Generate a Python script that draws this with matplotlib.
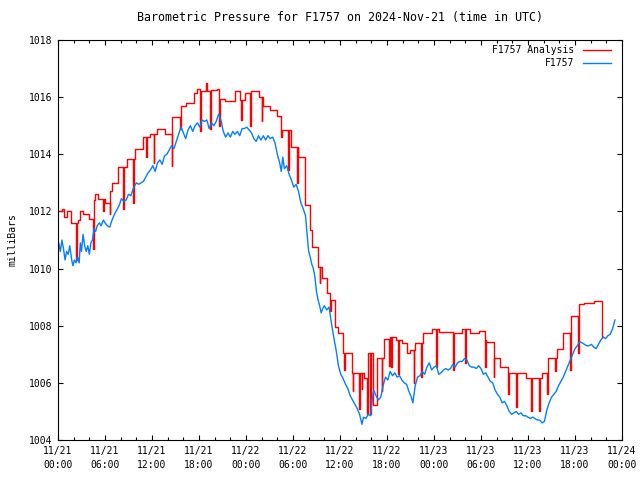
import matplotlib
matplotlib.use('Agg')
import matplotlib.pyplot as plt
from matplotlib.ticker import MultipleLocator, FixedLocator

# hours since 2024-11-21 00:00 UTC
blue_hours = [0.0, 0.1, 0.3, 0.5, 0.7, 0.9, 1.1, 1.3, 1.5, 1.75, 1.9, 2.1, 2.3, 2.5, 2.7, 2.85,
              3.0, 3.2, 3.4, 3.6, 3.8, 4.0, 4.2, 4.4, 4.6, 4.8, 5.0, 5.3, 5.5, 5.8, 6.0, 6.3,
              6.6, 6.9, 7.2, 7.5, 7.8, 8.1, 8.4, 8.7, 9.0, 9.3, 9.6, 10.0, 10.3, 10.6, 10.9,
              11.2, 11.5, 11.8, 12.1, 12.4, 12.7, 13.0, 13.3, 13.6, 13.9, 14.2, 14.5, 14.8,
              15.1, 15.4, 15.7, 16.0, 16.3, 16.6, 16.9, 17.2, 17.5, 17.8, 18.1, 18.4, 18.7,
              19.0, 19.3, 19.6, 19.9, 20.2, 20.5, 20.8, 21.1, 21.4, 21.7, 22.0, 22.3, 22.6,
              22.9, 23.2, 23.5, 23.8, 24.1, 24.4, 24.7, 25.0, 25.3, 25.6, 25.9, 26.2, 26.5,
              26.8, 27.1, 27.4, 27.7, 28.0, 28.3, 28.5, 28.7, 28.9, 29.2, 29.5, 29.8, 30.1,
              30.4, 30.7, 31.0, 31.3, 31.6, 31.8, 32.0, 32.2, 32.4, 32.6, 32.8, 33.0, 33.2,
              33.4, 33.6, 33.8, 34.0, 34.3, 34.6, 34.9, 35.2, 35.5, 35.8, 36.1, 36.4, 36.7,
              37.0, 37.3, 37.6, 37.9, 38.2, 38.5, 38.8, 39.0, 39.3, 39.6, 39.9, 40.1, 40.3,
              40.6, 40.9, 41.2, 41.5, 41.8, 42.1, 42.4, 42.7, 43.0, 43.3, 43.6, 43.9, 44.2,
              44.5, 44.8, 45.1, 45.3, 45.6, 45.9, 46.2, 46.5, 46.8, 47.1, 47.4, 47.7, 48.0,
              48.3, 48.6, 48.9, 49.2, 49.5, 49.8, 50.1, 50.4, 50.7, 51.0, 51.3, 51.6, 51.9,
              52.2, 52.5, 52.8, 53.1, 53.4, 53.7, 54.0, 54.3, 54.6, 54.9, 55.2, 55.5, 55.8,
              56.1, 56.4, 56.7, 57.0, 57.3, 57.6, 57.9, 58.2, 58.5, 58.8, 59.1, 59.4, 59.7,
              60.0, 60.3, 60.6, 60.9, 61.2, 61.5, 61.8, 62.1, 62.4, 62.7, 63.0, 63.3, 63.6,
              63.9, 64.2, 64.5, 64.8, 65.1, 65.4, 65.7, 66.0, 66.3, 66.6, 66.9, 67.2, 67.5,
              67.8, 68.1, 68.4, 68.7, 69.0, 69.3, 69.6, 69.9, 70.2, 70.5, 70.8, 71.1]
blue_mbar = [1010.4, 1010.9, 1010.6, 1011.0, 1010.7, 1010.3, 1010.6, 1010.5, 1010.8, 1010.3,
             1010.1, 1010.3, 1010.2, 1010.4, 1010.2, 1010.9, 1010.6, 1011.2, 1010.8, 1010.6,
             1010.8, 1010.5, 1010.9, 1011.0, 1011.4, 1011.3, 1011.5, 1011.6, 1011.5, 1011.7,
             1011.6, 1011.5, 1011.45, 1011.7, 1011.9, 1012.05, 1012.2, 1012.45, 1012.35, 1012.4,
             1012.6, 1012.55, 1012.8, 1013.0, 1012.95, 1013.0, 1013.05, 1013.2, 1013.35, 1013.45,
             1013.6, 1013.4, 1013.7, 1013.8, 1013.65, 1013.95, 1014.0, 1014.15, 1014.3, 1014.2,
             1014.45, 1014.7, 1014.95, 1014.75, 1014.55, 1014.85, 1015.0, 1014.8, 1015.0, 1015.1,
             1014.95, 1015.2, 1015.15, 1015.2, 1014.9, 1015.1, 1015.0, 1015.15, 1015.4, 1015.2,
             1014.8, 1014.6, 1014.75, 1014.6, 1014.8, 1014.7, 1014.8, 1014.65, 1014.9, 1014.9,
             1014.95, 1014.85, 1014.75, 1014.55, 1014.45, 1014.65, 1014.5, 1014.65, 1014.5, 1014.65,
             1014.55, 1014.6, 1014.4, 1014.0, 1013.7, 1013.4, 1013.9, 1013.5, 1013.6, 1013.3,
             1013.1, 1012.85, 1012.95, 1012.7, 1012.3, 1012.1, 1011.85, 1011.2, 1010.6, 1010.4,
             1010.15, 1010.0, 1009.7, 1009.2, 1008.9, 1008.7, 1008.45, 1008.6, 1008.7, 1008.55,
             1008.65, 1008.1, 1007.6, 1007.15, 1006.6, 1006.3, 1006.15, 1005.95, 1005.8, 1005.55,
             1005.4, 1005.25, 1005.1, 1004.9, 1004.55, 1004.8, 1004.75, 1004.9, 1004.85, 1005.4,
             1005.75, 1005.55, 1005.4, 1005.5, 1005.9, 1006.2, 1006.1, 1006.4, 1006.25, 1006.35,
             1006.2, 1006.25, 1006.1, 1006.0, 1005.95, 1005.7, 1005.5, 1005.3, 1005.9, 1006.2,
             1006.25, 1006.4, 1006.3, 1006.55, 1006.7, 1006.45, 1006.55, 1006.6, 1006.3, 1006.35,
             1006.45, 1006.5, 1006.45, 1006.5, 1006.65, 1006.55, 1006.7, 1006.75, 1006.75, 1006.85,
             1006.8, 1006.6, 1006.55, 1006.55, 1006.5, 1006.6, 1006.5, 1006.3, 1006.35, 1006.2,
             1006.05, 1006.0, 1005.75, 1005.6, 1005.5, 1005.3, 1005.35, 1005.2, 1005.0, 1004.9,
             1004.95, 1005.0, 1004.9, 1004.95, 1004.85, 1004.85, 1004.8, 1004.75, 1004.8, 1004.75,
             1004.7, 1004.7, 1004.6, 1004.65, 1005.05, 1005.3, 1005.5, 1005.6, 1005.7, 1005.9,
             1006.05, 1006.2, 1006.4, 1006.6, 1006.8, 1007.0, 1007.2, 1007.3, 1007.45, 1007.4,
             1007.35, 1007.3, 1007.3, 1007.35, 1007.25, 1007.2, 1007.35, 1007.5, 1007.6, 1007.55,
             1007.65, 1007.7, 1007.9, 1008.2]

# analysis (stepwise, with short dips)
red_hours = [0.0, 0.5, 0.8, 1.1, 1.7, 2.35, 2.45, 2.6, 2.8, 3.2, 3.9, 4.5, 4.6, 4.75, 5.1,
             5.8, 5.9, 6.0, 6.6, 6.7, 6.9, 7.6, 8.3, 8.4, 8.8, 9.6, 9.7, 9.8, 10.9, 11.2,
             11.3, 11.7, 12.2, 12.3, 12.6, 13.7, 14.5, 14.6, 15.6, 15.7, 16.4, 17.3, 17.7,
             18.1, 18.2, 18.9, 19.0, 19.4, 19.5, 20.3, 20.6, 20.7, 21.3, 22.6, 23.2, 23.4,
             23.5, 23.9, 24.5, 24.6, 25.6, 26.0, 26.1, 26.2, 27.1, 27.9, 28.5, 28.6, 29.4,
             29.5, 29.8, 30.5, 30.6, 30.7, 31.5, 32.2, 32.4, 33.2, 33.4, 33.5, 33.7, 34.3,
             34.7, 34.8, 35.4, 35.8, 36.4, 36.55, 36.65, 37.5, 37.6, 37.7, 38.4, 38.5, 38.75,
             38.85, 39.0, 39.5, 39.6, 39.8, 39.9, 40.2, 40.7, 41.3, 41.4, 41.6, 42.3, 42.4,
             42.5, 42.6, 43.2, 43.4, 43.5, 43.9, 44.5, 44.9, 45.4, 45.5, 45.6, 46.4, 46.5,
             46.6, 47.8, 48.3, 48.4, 48.7, 50.4, 50.5, 51.6, 52.0, 52.1, 52.6, 53.8, 54.5,
             54.6, 54.7, 55.6, 55.7, 56.4, 57.5, 57.6, 58.5, 58.6, 59.8, 60.4, 60.5, 61.4,
             61.5, 61.8, 62.4, 62.5, 62.6, 63.5, 63.6, 63.7, 64.5, 65.4, 65.5, 65.6, 66.4,
             66.5, 67.2, 68.4, 69.45, 69.6]
red_mbar = [1012.0, 1012.1, 1011.8, 1012.0, 1011.6, 1010.3, 1011.6, 1011.7, 1012.0, 1011.9,
            1011.75, 1010.7, 1012.4, 1012.6, 1012.45, 1012.0, 1012.45, 1012.3, 1011.9, 1012.7,
            1013.0, 1013.55, 1012.1, 1013.55, 1013.85, 1012.3, 1013.85, 1014.2, 1014.6, 1013.9,
            1014.6, 1014.7, 1013.7, 1014.7, 1014.9, 1014.7, 1013.6, 1015.3, 1014.9, 1015.7,
            1015.8, 1016.15, 1016.3, 1014.8, 1016.2, 1016.5, 1016.2, 1014.9, 1016.25, 1016.3,
            1015.0, 1015.95, 1015.85, 1016.2, 1015.9, 1015.2, 1015.9, 1016.15, 1015.0, 1016.2,
            1016.0, 1015.15, 1016.0, 1015.7, 1015.55, 1015.35, 1014.6, 1014.85, 1013.45, 1014.85,
            1014.27, 1013.0, 1014.27, 1013.92, 1012.23, 1011.35, 1010.77, 1010.07, 1009.5, 1010.07,
            1009.66, 1009.13, 1008.5, 1008.9, 1007.97, 1007.73, 1007.06, 1006.45, 1007.06, 1006.33,
            1005.7, 1006.33, 1005.1, 1006.33, 1005.8, 1006.33, 1006.16, 1004.9, 1007.06, 1004.9,
            1007.06, 1005.22, 1006.86, 1005.7, 1006.86, 1007.52, 1006.6, 1007.62, 1006.55, 1007.62,
            1007.5, 1006.3, 1007.5, 1007.4, 1007.03, 1007.15, 1006.0, 1007.15, 1007.38, 1006.2,
            1007.38, 1007.73, 1007.9, 1006.55, 1007.9, 1007.77, 1006.45, 1007.73, 1007.9, 1006.7,
            1007.9, 1007.73, 1007.8, 1006.55, 1007.5, 1007.44, 1006.2, 1006.86, 1006.57, 1005.6,
            1006.33, 1005.17, 1006.33, 1006.16, 1005.0, 1006.16, 1005.0, 1006.16, 1006.33, 1005.6,
            1006.33, 1006.86, 1006.4, 1006.86, 1007.17, 1007.75, 1006.45, 1008.34, 1008.34, 1007.05,
            1008.76, 1008.8, 1008.88, 1007.6, 1007.6]

tick_hours = [0, 6, 12, 18, 24, 30, 36, 42, 48, 54, 60, 66, 72]
tick_labels = ['11/21\n00:00', '11/21\n06:00', '11/21\n12:00', '11/21\n18:00',
               '11/22\n00:00', '11/22\n06:00', '11/22\n12:00', '11/22\n18:00',
               '11/23\n00:00', '11/23\n06:00', '11/23\n12:00', '11/23\n18:00',
               '11/24\n00:00']

plt.rcParams['font.family'] = ['DejaVu Sans Mono']
plt.rcParams['font.size'] = 7

fig = plt.figure(figsize=(6.4, 4.8), dpi=100)
ax = fig.add_axes([58 / 640, 40 / 480, 564 / 640, 400 / 480])

ax.plot(red_hours, red_mbar, color='#ff0000', lw=1.0, drawstyle='steps-post')
ax.plot(blue_hours, blue_mbar, color='#0080ff', lw=1.0)

ax.set_xlim(0, 72)
ax.set_ylim(1004, 1018)
ax.set_xticks(tick_hours)
ax.set_xticklabels(tick_labels, linespacing=1.5)
ax.xaxis.set_minor_locator(MultipleLocator(2))
ax.yaxis.set_major_locator(MultipleLocator(2))
ax.tick_params(which='both', direction='in', top=True, right=True, width=0.8, pad=4)
ax.tick_params(which='major', length=3.5)
ax.tick_params(which='minor', length=2)
for s in ax.spines.values():
    s.set_linewidth(0.8)

ax.set_ylabel('milliBars', labelpad=8)
ax.set_title('Barometric Pressure for F1757 on 2024-Nov-21 (time in UTC)', pad=14)

# gnuplot-style key: right-aligned text, sample line after it
ax.text(0.915, 0.975, 'F1757 Analysis', transform=ax.transAxes, ha='right', va='center')
ax.plot([0.93, 0.98], [0.975, 0.975], transform=ax.transAxes, color='#ff0000', lw=1.0)
ax.text(0.915, 0.943, 'F1757', transform=ax.transAxes, ha='right', va='center')
ax.plot([0.93, 0.98], [0.943, 0.943], transform=ax.transAxes, color='#0080ff', lw=1.0)

fig.savefig('out.png', dpi=100)
